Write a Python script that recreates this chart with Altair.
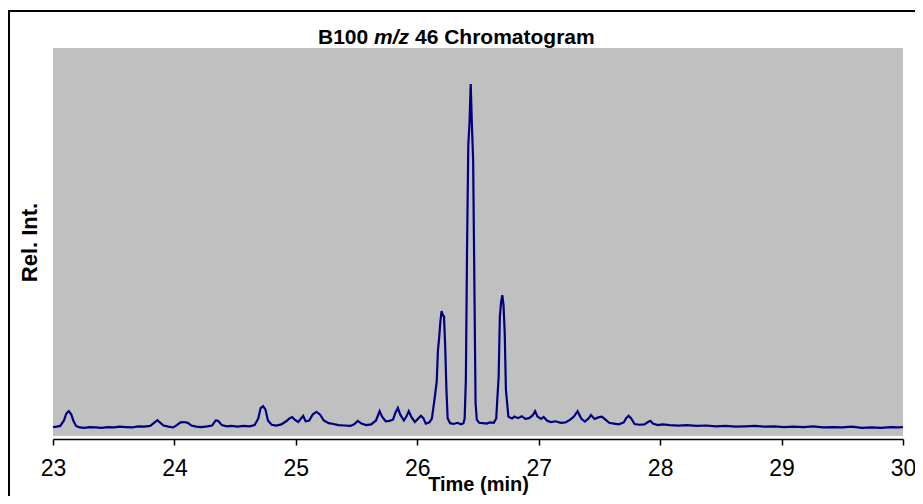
import altair as alt
import pandas as pd

# Retention time (min) and relative intensity
TIME = [23.00, 23.03, 23.06, 23.09, 23.11, 23.13, 23.15, 23.17, 23.19, 23.22,
        23.26, 23.30, 23.35, 23.40, 23.45, 23.50, 23.55, 23.60, 23.65, 23.70,
        23.75, 23.80, 23.84, 23.86, 23.88, 23.91, 23.95, 23.99, 24.02, 24.05,
        24.08, 24.11, 24.14, 24.18, 24.22, 24.27, 24.31, 24.34, 24.36, 24.39,
        24.43, 24.47, 24.52, 24.57, 24.62, 24.66, 24.69, 24.71, 24.73, 24.75,
        24.77, 24.80, 24.84, 24.88, 24.92, 24.95, 24.97, 24.99, 25.02, 25.04,
        25.06, 25.08, 25.11, 25.14, 25.17, 25.20, 25.23, 25.27, 25.31, 25.35,
        25.40, 25.45, 25.48, 25.51, 25.54, 25.58, 25.62, 25.66, 25.69, 25.71,
        25.74, 25.77, 25.80, 25.82, 25.84, 25.86, 25.89, 25.91, 25.93, 25.95,
        25.98, 26.01, 26.03, 26.05, 26.07, 26.10, 26.12, 26.14, 26.16, 26.17,
        26.18, 26.19, 26.20, 26.21, 26.22, 26.23, 26.24, 26.25, 26.27, 26.30,
        26.33, 26.36, 26.38, 26.39, 26.40, 26.41, 26.42, 26.43, 26.44, 26.45,
        26.46, 26.47, 26.48, 26.49, 26.51, 26.54, 26.57, 26.60, 26.63, 26.65,
        26.66, 26.67, 26.68, 26.69, 26.70, 26.71, 26.72, 26.73, 26.75, 26.78,
        26.80, 26.83, 26.86, 26.89, 26.92, 26.95, 26.97, 26.99, 27.02, 27.04,
        27.07, 27.10, 27.14, 27.18, 27.22, 27.26, 27.29, 27.32, 27.35, 27.38,
        27.41, 27.43, 27.46, 27.49, 27.52, 27.55, 27.58, 27.62, 27.66, 27.70,
        27.72, 27.74, 27.76, 27.79, 27.83, 27.87, 27.90, 27.92, 27.94, 27.98,
        28.02, 28.08, 28.15, 28.22, 28.30, 28.38, 28.46, 28.54, 28.62, 28.70,
        28.78, 28.86, 28.94, 29.02, 29.10, 29.18, 29.26, 29.34, 29.42, 29.50,
        29.58, 29.66, 29.74, 29.82, 29.90, 29.96, 30.00]

INTENSITY = [2.3, 2.4, 2.6, 4.0, 5.8, 6.4, 5.6, 3.8, 2.6, 2.2,
             2.1, 2.3, 2.2, 2.1, 2.3, 2.2, 2.4, 2.3, 2.2, 2.5,
             2.4, 2.6, 3.6, 4.1, 3.5, 2.7, 2.4, 2.2, 2.8, 3.5,
             3.6, 3.4, 2.7, 2.4, 2.3, 2.5, 2.7, 4.0, 3.9, 2.8,
             2.5, 2.6, 2.4, 2.6, 2.5, 2.8, 4.5, 7.2, 7.7, 6.8,
             4.0, 2.9, 2.7, 3.0, 3.8, 4.6, 4.9, 4.2, 3.6, 4.4,
             5.2, 3.8, 4.0, 5.6, 6.2, 5.5, 4.0, 3.3, 3.1, 2.8,
             2.7, 2.6, 3.0, 3.9, 3.2, 2.8, 3.0, 4.0, 6.4, 5.0,
             3.8, 3.9, 4.2, 6.0, 7.2, 5.5, 4.0, 5.0, 6.4, 5.0,
             3.6, 4.6, 5.2, 4.6, 3.2, 3.5, 4.5, 9.0, 14.0, 22.0,
             25.3, 29.4, 32.2, 31.2, 30.8, 22.9, 12.0, 4.6, 3.3, 3.1,
             3.4, 3.0, 3.3, 4.5, 14.4, 48.7, 75.0, 80.7, 90.7, 80.0,
             71.1, 40.0, 8.5, 4.2, 3.4, 3.3, 3.2, 3.5, 3.4, 4.5,
             10.0, 15.2, 30.7, 34.5, 36.3, 33.8, 26.6, 11.9, 5.0, 4.5,
             5.0, 4.6, 5.1, 4.4, 4.6, 5.3, 6.4, 5.0, 4.4, 4.9,
             3.9, 3.6, 3.8, 3.4, 3.5, 4.2, 5.0, 6.4, 4.5, 3.7,
             4.5, 5.4, 4.4, 4.8, 5.0, 4.2, 3.4, 3.2, 3.0, 3.5,
             4.6, 5.2, 4.6, 3.1, 2.9, 3.0, 3.6, 3.9, 3.2, 2.8,
             3.0, 2.8, 2.7, 2.8, 2.6, 2.7, 2.5, 2.6, 2.4, 2.5,
             2.6, 2.4, 2.5, 2.3, 2.4, 2.3, 2.5, 2.2, 2.3, 2.2,
             2.4, 2.1, 2.2, 2.1, 2.3, 2.2, 2.3]

X_TICKS = [23, 23.5, 24, 24.5, 25, 25.5, 26, 26.5, 27, 27.5, 28, 28.5, 29, 29.5, 30]
TITLE_PARTS = ["B100", "m/z", "46 Chromatogram"]
X_TITLE = "Time (min)"
Y_TITLE = "Rel. Int."

df = pd.DataFrame({"t": TIME, "i": INTENSITY})

FONT = "Liberation Sans"
W, H = 850, 388

line = alt.Chart(df).mark_line(color="#000080", strokeWidth=2.2).encode(
    x=alt.X("t:Q",
            scale=alt.Scale(domain=[23, 30], nice=False, zero=False),
            axis=alt.Axis(values=X_TICKS, title=X_TITLE,
                          labelExpr="datum.value % 1 == 0 ? datum.label : ''",
                          format="d")),
    y=alt.Y("i:Q", scale=alt.Scale(domain=[0, 100], nice=False),
            axis=alt.Axis(title=Y_TITLE, labels=False, ticks=False,
                          domain=False, grid=False)),
)

one = alt.Data(values=[{}])
title_size = 21
t1 = alt.Chart(one).mark_text(text=TITLE_PARTS[0], font=FONT, fontSize=title_size,
                              fontWeight="bold", align="left", baseline="middle",
                              color="black").encode(x=alt.value(265), y=alt.value(-10))
t2 = alt.Chart(one).mark_text(text=TITLE_PARTS[1], font=FONT, fontSize=title_size,
                              fontWeight="bold", fontStyle="italic", align="left",
                              baseline="middle", color="black").encode(
    x=alt.value(321), y=alt.value(-10))
t3 = alt.Chart(one).mark_text(text=TITLE_PARTS[2], font=FONT, fontSize=title_size,
                              fontWeight="bold", align="left", baseline="middle",
                              color="black").encode(x=alt.value(362), y=alt.value(-10))

border = alt.Chart(one).mark_rect(filled=False, stroke="black", strokeWidth=2).encode(
    x=alt.value(-44), x2=alt.value(2000), y=alt.value(-37), y2=alt.value(1000))

chart = alt.layer(border, line, t1, t2, t3).properties(
    width=W, height=H,
    autosize=alt.AutoSizeParams(type="none"),
    padding={"left": 45, "top": 40, "right": 12, "bottom": 60},
).configure_view(
    fill="#c0c0c0", stroke=None
).configure_axisX(
    grid=False, domainColor="black", domainWidth=1.5, tickColor="black",
    tickWidth=1.5, tickSize=6, offset=3, labelFlush=False,
    labelFont=FONT, labelFontSize=23, labelColor="black", labelPadding=12,
    titleFont=FONT, titleFontSize=20, titleFontWeight="bold", titleColor="black",
    titlePadding=-6,
).configure_axisY(
    titleFont=FONT, titleFontSize=22, titleFontWeight="bold", titleColor="black",
    titlePadding=12,
)

chart.save("out.html", embed_options={"renderer": "svg", "actions": False})
